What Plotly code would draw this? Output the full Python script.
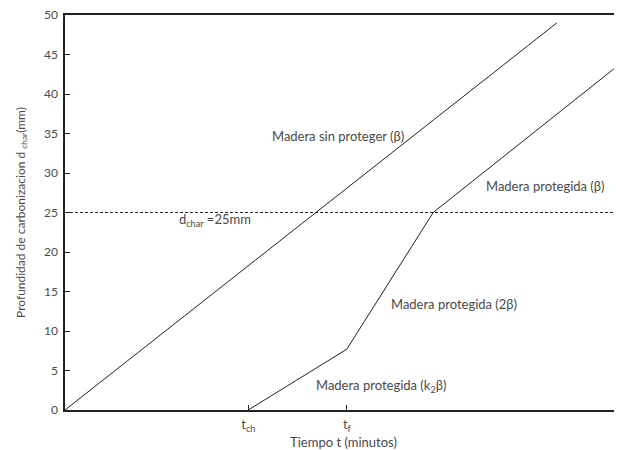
import plotly.graph_objects as go

# Datos (tiempo en unidades arbitrarias 0-100)
t_sin_proteger = [0, 88.3]
d_sin_proteger = [0, 49.0]

t_protegida = [32.9, 50.6, 66.1, 100]
d_protegida = [0, 7.7, 25.0, 44.0]

d_char = 25
t_rango = [0, 100]

tick_vals = [32.9, 50.6]
tick_text = ["t<sub>ch</sub>", "t<sub>f</sub>"]

_COR_TEXTO = "#4a4a4a"
_COR_LINEA = "#222222"
_FUENTE = "Lato, Open Sans, sans-serif"

fig = go.Figure()

fig.add_trace(go.Scatter(
    x=t_rango, y=[d_char, d_char], mode="lines",
    line=dict(color=_COR_LINEA, width=1, dash="3px,2px"),
    hoverinfo="skip", showlegend=False,
))
fig.add_trace(go.Scatter(
    x=t_sin_proteger, y=d_sin_proteger, mode="lines",
    line=dict(color=_COR_LINEA, width=1),
    hoverinfo="skip", showlegend=False,
))
fig.add_trace(go.Scatter(
    x=t_protegida, y=d_protegida, mode="lines",
    line=dict(color=_COR_LINEA, width=1),
    hoverinfo="skip", showlegend=False,
))

# Etiquetas en el área del gráfico
notas = [
    (49.0, 34.7, "Madera sin proteger (β)"),
    (86.2, 28.4, "Madera protegida (β)"),
    (26.9, 24.1, "d<sub>char</sub> =25mm"),
    (69.9, 13.4, "Madera protegida (2β)"),
    (56.7, 3.1, "Madera protegida (k<sub>2</sub>β)"),
]
for x, y, txt in notas:
    fig.add_annotation(x=x, y=y, text=txt, showarrow=False,
                       font=dict(size=13, color=_COR_TEXTO, family=_FUENTE))

# La página añade 8 px de margen al cuerpo: se compensa en el tamaño
fig.update_layout(
    width=614, height=442,
    margin=dict(l=57, r=0, t=7, b=40),
    plot_bgcolor="white", paper_bgcolor="white",
    showlegend=False,
    font=dict(family=_FUENTE, size=12, color=_COR_TEXTO),
    xaxis=dict(
        range=t_rango, tickvals=tick_vals, ticktext=tick_text,
        ticks="inside", ticklen=5, tickcolor=_COR_LINEA,
        showline=True, linecolor=_COR_LINEA, linewidth=1.5, mirror=True,
        showgrid=False, zeroline=False,
        tickfont=dict(size=13), ticklabelstandoff=2,
        title=dict(text="Tiempo t (minutos)", standoff=1,
                   font=dict(size=13, color=_COR_TEXTO)),
    ),
    yaxis=dict(
        range=[0, 50], dtick=5,
        ticks="inside", ticklen=5, tickcolor=_COR_LINEA,
        ticklabelstandoff=3, ticklabeloverflow="allow",
        tickfont=dict(size=12),
        showline=True, linecolor=_COR_LINEA, linewidth=1.5,
        showgrid=False, zeroline=False,
        title=dict(text="Profundidad de carbonizacion d <sub>char</sub>(mm)",
                   standoff=16, font=dict(size=12, color=_COR_TEXTO)),
    ),
)

fig.write_html("out.html")
